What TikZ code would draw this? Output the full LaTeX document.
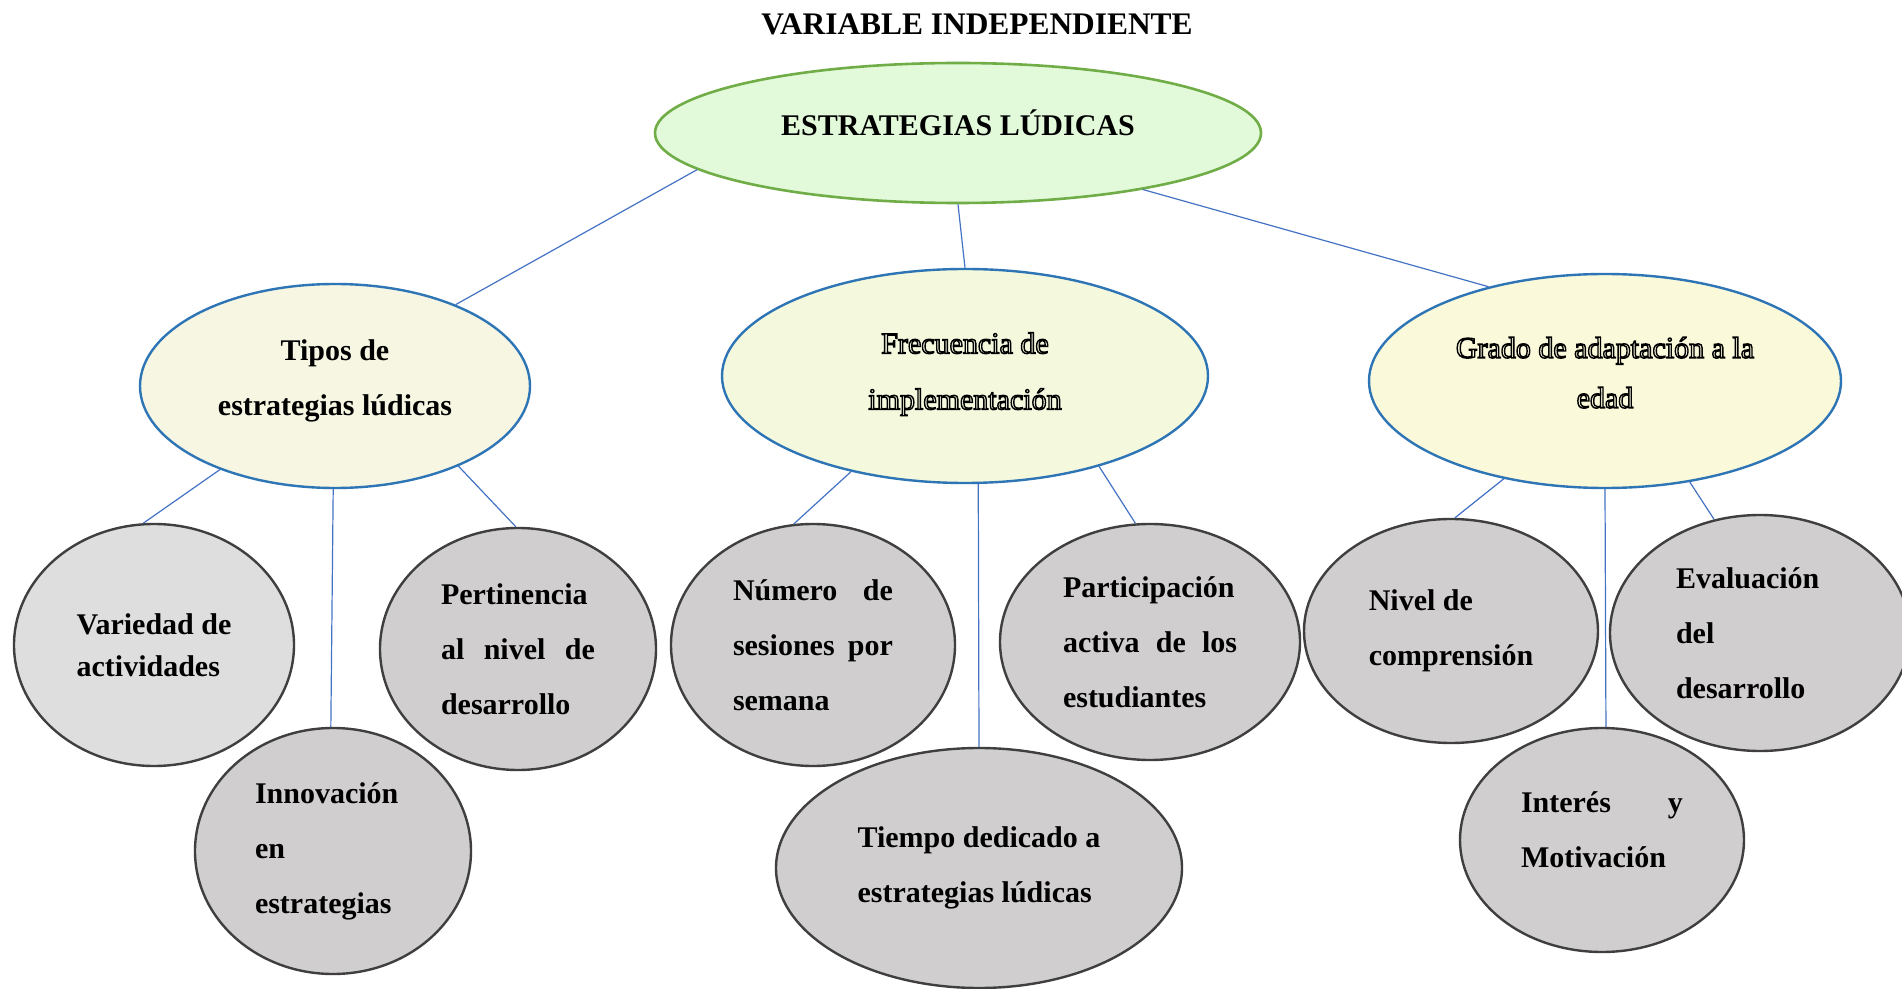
\documentclass[tikz,border=0pt]{standalone}
\usepackage{fontspec}
\setmainfont{Liberation Serif}
\usetikzlibrary{shapes.geometric}
\definecolor{rootline}{HTML}{70AD47}
\definecolor{rootfill}{HTML}{E2FADA}
\definecolor{midline}{HTML}{2E75B6}
\definecolor{tipofill}{HTML}{F6F6E3}
\definecolor{frecfill}{HTML}{F4F8DC}
\definecolor{gradfill}{HTML}{FAF9DA}
\definecolor{leafline}{HTML}{3F3F3F}
\definecolor{leaffill}{HTML}{D0CECE}
\definecolor{leaflite}{HTML}{DEDEDE}
\definecolor{linkline}{HTML}{4472C4}
\newcommand\outlined[1]{\special{pdf:code q 1 Tr 0.7 w}#1\special{pdf:code Q}}

\tikzset{
  rootnode/.style={ellipse,draw=rootline,fill=rootfill,line width=1.3pt,
    inner sep=0pt,font=\bfseries\fontsize{15}{18}\selectfont},
  midnode/.style={ellipse,draw=midline,line width=1.2pt,inner sep=0pt,
    align=center,font=\bfseries\fontsize{15}{27.5}\selectfont},
  leafnode/.style={ellipse,draw=leafline,fill=leaffill,line width=1.2pt,
    inner sep=0pt,align=left,font=\bfseries\fontsize{15}{27.5}\selectfont},
  link/.style={linkline,line width=0.6pt},
}

\begin{document}
\begin{tikzpicture}[x=0.5pt,y=-0.5pt]
  \useasboundingbox (0,0) rectangle (1902,989);
  \fill[white] (0,0) rectangle (1902,989);

  \node[font=\bfseries\fontsize{15.7}{18}\selectfont] (titulo) at (977,24)
    {VARIABLE INDEPENDIENTE};

  % nivel 1
  \node[rootnode,text depth=10pt,minimum width=303pt,minimum height=70pt]
    (root) at (958,133) {ESTRATEGIAS LÚDICAS};

  % nivel 2
  \node[midnode,fill=tipofill,text depth=8.5pt,minimum width=195pt,minimum height=102pt]
    (tipos) at (335,386) {Tipos de\\estrategias lúdicas};
  \node[midnode,fill=frecfill,font=\fontsize{15}{28}\selectfont,text depth=5pt,
    minimum width=243pt,minimum height=107pt]
    (frecuencia) at (965,376) {\outlined{Frecuencia de}\\\outlined{implementación}};
  \node[midnode,fill=gradfill,font=\fontsize{15}{25}\selectfont,text depth=8.5pt,
    minimum width=236pt,minimum height=107pt]
    (grado) at (1605,381) {\outlined{Grado de adaptación a la}\\\outlined{edad}};

  % nivel 3
  \node[leafnode,fill=leaflite,font=\bfseries\fontsize{15}{21}\selectfont,
    minimum width=140pt,minimum height=121pt]
    (variedad) at (154,645) {Variedad de\\actividades};
  \node[leafnode,text width=78pt,minimum width=138pt,minimum height=123pt]
    (innovacion) at (333,851) {Innovación\\en\\estrategias};
  \node[leafnode,text width=77pt,minimum width=138pt,minimum height=121pt]
    (pertinencia) at (518,649) {Pertinencia\\al\hfill nivel\hfill de\\desarrollo};
  \node[leafnode,text width=80pt,minimum width=142pt,minimum height=121pt]
    (numero) at (813,645) {Número\hfill de\\sesiones\hfill por\\semana};
  \node[leafnode,minimum width=203pt,minimum height=120pt]
    (tiempo) at (979,868) {Tiempo dedicado a\\estrategias lúdicas};
  \node[leafnode,text width=87pt,minimum width=150pt,minimum height=118pt]
    (participacion) at (1150,642) {Participación\\activa\hfill de\hfill los\\estudiantes};
  \node[leafnode,minimum width=147pt,minimum height=112pt]
    (nivel) at (1451,631) {Nivel de\\comprensión};
  \node[leafnode,text depth=10pt,minimum width=142pt,minimum height=112pt]
    (interes) at (1602,840) {\makebox[81pt][s]{Interés y}\\Motivación};
  \node[leafnode,text width=84pt,minimum width=150pt,minimum height=118pt]
    (evaluacion) at (1760,633) {Evaluación\\del\\desarrollo};

  % conectores
  \draw[link] (root.188) -- (tipos.34);
  \draw[link] (root.270) -- (frecuencia.90);
  \draw[link] (root.343) -- (grado.141);
  \draw[link] (tipos.216) -- (variedad.95);
  \draw[link] (tipos.269) -- (innovacion.91);
  \draw[link] (tipos.327) -- (pertinencia.91);
  \draw[link] (frecuencia.220) -- (numero.99);
  \draw[link] (frecuencia.277) -- (tiempo.90);
  \draw[link] (frecuencia.326) -- (participacion.97);
  \draw[link] (grado.224) -- (nivel.88);
  \draw[link] (grado.270) -- (interes.88);
  \draw[link] (grado.310) -- (evaluacion.112);
\end{tikzpicture}
\end{document}
